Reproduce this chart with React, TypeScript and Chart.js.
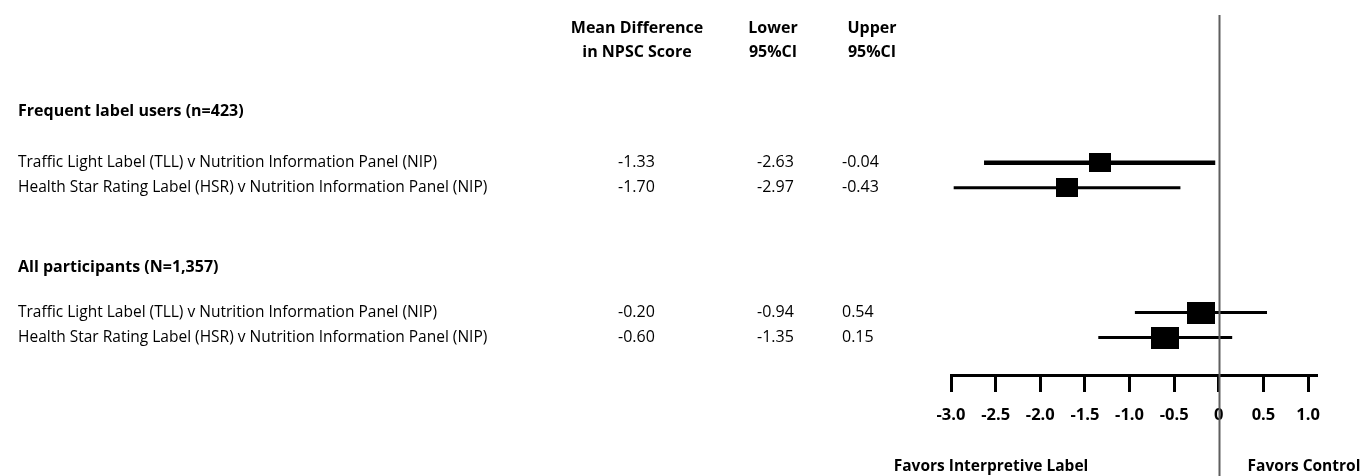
import React, { useEffect, useRef } from "react";
import { Chart, registerables } from "chart.js";

Chart.register(...registerables);

// ---------- data ----------
const groupTitles = ["Frequent label users (n=423)", "All participants (N=1,357)"];
const comparisons = [
  "Traffic Light Label (TLL) v Nutrition Information Panel (NIP)",
  "Health Star Rating Label (HSR) v Nutrition Information Panel (NIP)",
  "Traffic Light Label (TLL) v Nutrition Information Panel (NIP)",
  "Health Star Rating Label (HSR) v Nutrition Information Panel (NIP)",
];
const rowIndex = [0, 1, 6, 7];
const meanDiff = [-1.33, -1.7, -0.2, -0.6];
const lowerCI = [-2.63, -2.97, -0.94, -1.35];
const upperCI = [-0.04, -0.43, 0.54, 0.15];
const tickValues = [-3, -2.5, -2, -1.5, -1, -0.5, 0, 0.5, 1];
const columnHeaders = [
  ["Mean Difference", "in NPSC Score"],
  ["Lower", "95%CI"],
  ["Upper", "95%CI"],
];
const favorLabels = ["Favors Interpretive Label", "Favors Control"];

// ---------- styles ----------
const FONT = "'Open Sans', 'DejaVu Sans', sans-serif";
const markerBoxes = [
  [22, 19],
  [22, 19],
  [28, 22],
  [28, 22],
];
const ciWidths = [4.5, 3, 3, 3];

function makeRect(w: number, h: number) {
  const c = document.createElement("canvas");
  c.width = w;
  c.height = h;
  const g = c.getContext("2d")!;
  g.fillStyle = "#000";
  g.fillRect(0, 0, w, h);
  return c;
}

const textPlugin = {
  id: "forestText",
  afterDraw(chart: any) {
    const ctx = chart.ctx;
    const xs = chart.scales.x;
    const ys = chart.scales.y;
    ctx.save();
    // zero reference line
    const zx = Math.round(xs.getPixelForValue(0)) + 0.5;
    ctx.strokeStyle = "#5f5f5f";
    ctx.lineWidth = 2;
    ctx.beginPath();
    ctx.moveTo(zx, 15);
    ctx.lineTo(zx, chart.height);
    ctx.stroke();

    ctx.fillStyle = "#000";
    ctx.textBaseline = "middle";
    // column headers
    ctx.font = `bold 16px ${FONT}`;
    ctx.textAlign = "center";
    const headX = [637, 773, 872];
    columnHeaders.forEach((lines, i) => {
      ctx.fillText(lines[0], headX[i], 28);
      ctx.fillText(lines[1], headX[i], 52);
    });
    // group titles
    ctx.textAlign = "left";
    ctx.fillText(groupTitles[0], 18, 111);
    ctx.fillText(groupTitles[1], 18, 267);
    // rows
    comparisons.forEach((label, i) => {
      const py = ys.getPixelForValue(rowIndex[i]);
      ctx.font = `15.5px ${FONT}`;
      ctx.fillText(label, 18, py);
      ctx.font = `16px ${FONT}`;
      ctx.fillText(meanDiff[i].toFixed(2), 618, py);
      ctx.fillText(lowerCI[i].toFixed(2), 757, py);
      ctx.fillText(upperCI[i].toFixed(2), 842, py);
    });
    // favours labels
    ctx.font = `bold 15.5px ${FONT}`;
    ctx.textAlign = "center";
    ctx.fillText(favorLabels[0], 991, 467);
    ctx.fillText(favorLabels[1], 1304, 467);
    ctx.restore();
  },
};

export default function App() {
  const ref = useRef<HTMLCanvasElement | null>(null);
  useEffect(() => {
    if (!ref.current) return;
    const ciSets = rowIndex.map((r, i) => ({
      type: "scatter" as const,
      data: [
        { x: lowerCI[i], y: r },
        { x: upperCI[i], y: r },
      ],
      showLine: true,
      borderColor: "#000",
      borderWidth: ciWidths[i],
      pointRadius: 0,
    }));
    const chart = new Chart(ref.current, {
      type: "scatter",
      data: {
        datasets: [
          ...ciSets,
          {
            type: "scatter",
            data: meanDiff.map((m, i) => ({ x: m, y: rowIndex[i] })),
            pointStyle: markerBoxes.map(([w, h]) => makeRect(w, h)) as any,
            pointRadius: 12,
            backgroundColor: "#000",
            borderColor: "#000",
          },
        ],
      },
      options: {
        animation: false,
        responsive: true,
        maintainAspectRatio: false,
        events: [],
        layout: { padding: { left: 951, right: 48, top: 3, bottom: 0 } },
        plugins: { legend: { display: false }, tooltip: { enabled: false } },
        scales: {
          x: {
            type: "linear",
            min: -3,
            max: 1.1,
            position: "bottom",
            afterBuildTicks: (axis: any) => {
              axis.ticks = tickValues.map((v) => ({ value: v }));
            },
            afterFit: (axis: any) => {
              axis.height = 101;
            },
            border: { display: true, color: "#000", width: 3 },
            grid: {
              display: true,
              drawOnChartArea: false,
              drawTicks: true,
              tickLength: 17,
              tickWidth: 3,
              tickColor: "#000",
            },
            ticks: {
              padding: 13,
              color: "#000",
              font: { family: FONT, size: 16.5, weight: "bold" },
              maxRotation: 0,
              autoSkip: false,
              callback: (v: any) => (Number(v) === 0 ? "0" : Number(v).toFixed(1)),
            },
          },
          y: {
            type: "linear",
            display: false,
            reverse: true,
            min: -6,
            max: 8.5,
          },
        },
      },
      plugins: [textPlugin],
    });
    return () => chart.destroy();
  }, []);
  return (
    <div style={{ position: "fixed", left: 0, top: 0, width: 1365, height: 476, background: "#fff" }}>
      <canvas ref={ref} />
    </div>
  );
}
